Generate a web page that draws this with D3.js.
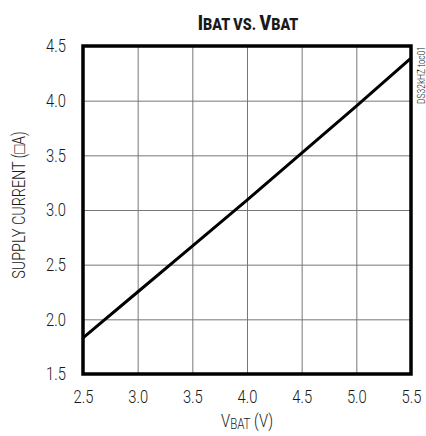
<!DOCTYPE html>
<html>
<head>
<meta charset="utf-8">
<script src="https://cdn.jsdelivr.net/npm/d3@7"></script>
<style>
  body { margin: 0; background: #fff; }
  svg text { font-family: Roboto, "Liberation Sans", sans-serif; font-weight: 300; fill: #1a1a1a; }
</style>
</head>
<body>
<div id="chart"></div>
<script>
// data
const vbat = [2.5, 3.0, 3.5, 4.0, 4.5, 5.0, 5.5];
const ibat = [1.83, 2.25, 2.67, 3.09, 3.52, 3.95, 4.39];
const xTicks = [2.5, 3.0, 3.5, 4.0, 4.5, 5.0, 5.5];
const yTicks = [1.5, 2.0, 2.5, 3.0, 3.5, 4.0, 4.5];

const W = 426, H = 436;
const margin = {top: 46, right: 15, bottom: 62, left: 83};
const width = W - margin.left - margin.right,
      height = H - margin.top - margin.bottom;
const sx = 0.82; // squeeze text horizontally, the original uses a condensed face

const svg = d3.select("#chart").append("svg")
  .attr("width", W).attr("height", H);

const g = svg.append("g")
  .attr("transform", `translate(${margin.left},${margin.top})`);

const x = d3.scaleLinear().domain([2.5, 5.5]).range([0, width]);
const y = d3.scaleLinear().domain([1.5, 4.5]).range([height, 0]);

// grid
g.append("g")
  .call(d3.axisBottom(x).tickValues(xTicks).tickSize(height).tickFormat(""))
  .call(a => a.select(".domain").remove())
  .selectAll("line").attr("stroke", "#777").attr("stroke-width", 1);
g.append("g")
  .call(d3.axisRight(y).tickValues(yTicks).tickSize(width).tickFormat(""))
  .call(a => a.select(".domain").remove())
  .selectAll("line").attr("stroke", "#777").attr("stroke-width", 1);

// tick labels
g.append("g")
  .attr("transform", `translate(0,${height})`)
  .call(d3.axisBottom(x).tickValues(xTicks).tickSize(0).tickPadding(16).tickFormat(d3.format(".1f")))
  .call(a => a.select(".domain").remove())
  .selectAll("text")
    .style("font-size", "18px")
    .attr("fill", "#1a1a1a")
    .attr("transform", `scale(${sx},1)`);
g.append("g")
  .call(d3.axisLeft(y).tickValues(yTicks).tickSize(0).tickFormat(d3.format(".1f")))
  .call(a => a.select(".domain").remove())
  .selectAll("text")
    .style("font-size", "18px")
    .attr("fill", "#1a1a1a")
    .attr("x", -17 / sx)
    .attr("transform", `scale(${sx},1)`);

// curve
const line = d3.line().x((d, i) => x(vbat[i])).y(d => y(d));
g.append("path")
  .datum(ibat)
  .attr("fill", "none")
  .attr("stroke", "#000")
  .attr("stroke-width", 3)
  .attr("d", line);

// frame
g.append("rect")
  .attr("width", width).attr("height", height)
  .attr("fill", "none").attr("stroke", "#000").attr("stroke-width", 3.5);

// title
const title = svg.append("text")
  .attr("transform", `translate(${margin.left + width / 2 + 1},30) scale(0.84,1)`)
  .attr("text-anchor", "middle")
  .style("font-weight", "900");
title.append("tspan").style("font-size", "21px").text("I");
title.append("tspan").style("font-size", "17px").text("BAT VS. ");
title.append("tspan").style("font-size", "21px").text("V");
title.append("tspan").style("font-size", "17px").text("BAT");

// x label
const xl = svg.append("text")
  .attr("transform", `translate(${margin.left + width / 2},427) scale(${sx},1)`)
  .attr("text-anchor", "middle");
xl.append("tspan").style("font-size", "18px").text("V");
xl.append("tspan").style("font-size", "14px").attr("dy", 2).text("BAT");
xl.append("tspan").style("font-size", "18px").attr("dy", -2).text(" (V)");

// y label
svg.append("text")
  .attr("transform", `translate(25,205) rotate(-90) scale(${sx},1)`)
  .attr("text-anchor", "middle")
  .style("font-size", "17.5px")
  .text("SUPPLY CURRENT (\u25A1A)");

// figure code
svg.append("text")
  .attr("transform", `translate(425,${margin.top}) rotate(-90) scale(0.8,1)`)
  .attr("text-anchor", "end")
  .style("font-size", "10.5px")
  .text("DS32kHZ toc01");
</script>
</body>
</html>
